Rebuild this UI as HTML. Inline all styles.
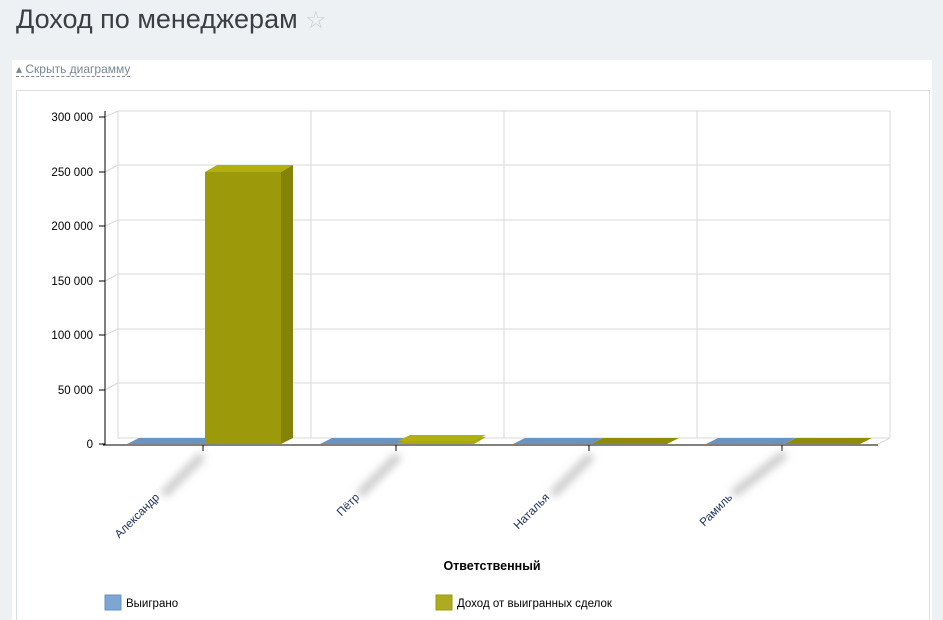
<!DOCTYPE html><html><head><meta charset="utf-8"><style>
html,body{margin:0;width:943px;height:620px;overflow:hidden}
body{background:#eef1f4;font-family:"Liberation Sans",sans-serif;position:relative}
.t{position:absolute;left:16px;top:4px;font-size:27px;color:#3a3f44}
.p{position:absolute;left:12px;top:60px;width:920px;height:560px;background:#fff}
.h{position:absolute;left:16px;top:62px;font-size:12px;color:#7b8691;border-bottom:1px dashed #7b8691;line-height:14px}
.b{position:absolute;left:16px;top:90px;width:912px;height:529px;border:1px solid #dcdfe2;border-bottom:none;background:#fff}
</style></head><body>
<div class="t">Доход по менеджерам <span style="color:#c6ccd2;font-size:24px">☆</span></div>
<div class="p"></div>
<div class="h">▴ Скрыть диаграмму</div>
<div class="b"></div>
<svg width="943" height="620" style="position:absolute;left:0;top:0" font-family="Liberation Sans, sans-serif">
<defs><filter id="bl" x="-50%" y="-50%" width="200%" height="200%"><feGaussianBlur stdDeviation="4"/></filter></defs>
<g stroke="#d9d9d9" fill="none">
<line x1="118" y1="111" x2="890" y2="111"/><line x1="118" y1="165" x2="890" y2="165"/><line x1="118" y1="220" x2="890" y2="220"/><line x1="118" y1="274" x2="890" y2="274"/><line x1="118" y1="329" x2="890" y2="329"/><line x1="118" y1="383" x2="890" y2="383"/><line x1="118" y1="438" x2="890" y2="438"/>
<line x1="118" y1="111" x2="118" y2="438"/><line x1="311" y1="111" x2="311" y2="438"/><line x1="504" y1="111" x2="504" y2="438"/><line x1="697" y1="111" x2="697" y2="438"/><line x1="890" y1="111" x2="890" y2="438"/>
<path d="M105 117L118 111M105 172L118 165M105 226L118 220M105 281L118 274M105 335L118 329M105 390L118 383M878 444L890 438"/>
</g>
<polygon points="127,444 205,444 217,438 139,438" fill="#6a93c0"/>
<polygon points="320,444 398,444 410,438 332,438" fill="#6a93c0"/>
<polygon points="513,444 591,444 603,438 525,438" fill="#6a93c0"/>
<polygon points="706,444 784,444 796,438 718,438" fill="#6a93c0"/>
<rect x="205" y="172" width="76" height="272" fill="#9c9a0a"/>
<polygon points="205,172 281,172 293,165 217,165" fill="#b2b00e"/>
<polygon points="281,172 293,165 293,438 281,444" fill="#858209"/>
<polygon points="398,444 474,444 486,437 410,437" fill="#aaa80c"/><polygon points="398,441 474,441 486,435 410,435" fill="#b2b00e"/>
<polygon points="591,444 667,444 679,438 603,438" fill="#8e8c0a"/>
<polygon points="784,444 860,444 872,438 796,438" fill="#8e8c0a"/>
<g stroke="#000"><line x1="105" y1="111" x2="105" y2="445"/><line x1="103" y1="445" x2="878" y2="445"/>
<path d="M99 117H105M99 172H105M99 226H105M99 281H105M99 335H105M99 390H105M99 444H105M203 445V451M396 445V451M589 445V451M782 445V451"/></g>
<g font-size="11.5" fill="#000" text-anchor="end">
<text x="93" y="121">300 000</text><text x="93" y="176">250 000</text><text x="93" y="230">200 000</text><text x="93" y="285">150 000</text><text x="93" y="339">100 000</text><text x="93" y="394">50 000</text><text x="93" y="448">0</text></g>
<g font-size="11.5" fill="#1a2b55" text-anchor="end">
<text transform="translate(160,498) rotate(-45)">Александр</text>
<text transform="translate(360,498) rotate(-45)">Пётр</text>
<text transform="translate(550,498) rotate(-45)">Наталья</text>
<text transform="translate(733,498) rotate(-45)">Рамиль</text></g>
<g stroke="#ccc" stroke-width="9" stroke-linecap="round" filter="url(#bl)">
<line x1="166" y1="492" x2="200" y2="458"/><line x1="362" y1="492" x2="396" y2="458"/><line x1="555" y1="492" x2="589" y2="458"/><line x1="736" y1="492" x2="782" y2="456"/></g>
<text x="492" y="570" font-size="12.5" font-weight="bold" text-anchor="middle">Ответственный</text>
<rect x="105" y="595" width="16" height="15" fill="#7ea6d4" stroke="#6a93c0"/>
<text x="126" y="607" font-size="11.5">Выиграно</text>
<rect x="436" y="595" width="16" height="15" fill="#adab22" stroke="#9c9a0a"/>
<text x="457" y="607" font-size="11.5">Доход от выигранных сделок</text>
</svg>
</body></html>
